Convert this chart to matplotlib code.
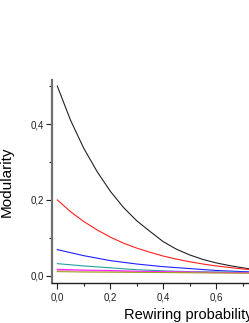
import matplotlib.pyplot as plt
from matplotlib.ticker import MultipleLocator, FuncFormatter

plt.rcParams['font.family'] = ['Liberation Sans', 'DejaVu Sans']

# rewiring probability
p_fine = [0.0, 0.05, 0.1, 0.15, 0.2, 0.25, 0.3, 0.35, 0.4, 0.45, 0.5,
          0.55, 0.6, 0.65, 0.7, 0.75, 0.8, 0.85, 0.9, 0.95, 1.0]
p = [0.0, 0.1, 0.2, 0.3, 0.4, 0.5, 0.6, 0.7, 0.8, 0.9, 1.0]

q_black = [0.5, 0.41, 0.336, 0.275, 0.223, 0.18, 0.145, 0.117, 0.09, 0.07, 0.055,
           0.043, 0.034, 0.027, 0.021, 0.016, 0.0125, 0.01, 0.008, 0.0065, 0.005]
q_red = [0.2, 0.169, 0.143, 0.121, 0.102, 0.086, 0.073, 0.062, 0.052, 0.044, 0.037,
         0.031, 0.026, 0.022, 0.018, 0.015, 0.013, 0.011, 0.009, 0.0075, 0.006]
q_blue = [0.069, 0.053, 0.04, 0.031, 0.024, 0.019, 0.014, 0.011, 0.009, 0.007, 0.005]
q_teal = [0.032, 0.026, 0.021, 0.016, 0.013, 0.011, 0.01, 0.009, 0.008, 0.007, 0.006]
q_magenta = [0.017, 0.015, 0.014, 0.012, 0.011, 0.01, 0.009, 0.008, 0.007, 0.007, 0.006]
q_pink = [0.014, 0.013, 0.012, 0.011, 0.01, 0.009, 0.008, 0.0075, 0.007, 0.0065, 0.006]
q_olive = [0.011, 0.01, 0.0095, 0.009, 0.0085, 0.008, 0.0075, 0.007, 0.0068, 0.0065, 0.006]

fig = plt.figure(figsize=(2.49, 3.23), dpi=100)
# the original is a crop: the axes run up to the right edge of the picture
ax = fig.add_axes([52 / 249, 40 / 323, 197 / 249, 203 / 323])

lw = 0.8
ax.plot(p_fine, q_black, color='#222222', lw=lw)
ax.plot(p_fine, q_red, color='#ff2020', lw=lw)
ax.plot(p, q_blue, color='#2020ff', lw=lw)
ax.plot(p, q_teal, color='#20a0a0', lw=lw)
ax.plot(p, q_pink, color='#ff90d0', lw=lw)
ax.plot(p, q_magenta, color='#ff20ff', lw=lw)
ax.plot(p, q_olive, color='#a0a020', lw=lw)

ax.set_xlim(-0.02, 0.724)
ax.set_ylim(-0.019, 0.516)

for side in ['top', 'right']:
    ax.spines[side].set_visible(False)
ax.spines['left'].set_color('#707070')
ax.spines['left'].set_linewidth(1.6)
ax.spines['bottom'].set_color('#202020')
ax.spines['bottom'].set_linewidth(1.0)

ax.xaxis.set_major_locator(MultipleLocator(0.2))
ax.xaxis.set_minor_locator(MultipleLocator(0.1))
ax.yaxis.set_major_locator(MultipleLocator(0.2))
ax.yaxis.set_minor_locator(MultipleLocator(0.1))
comma = FuncFormatter(lambda v, pos: f'{v:.1f}'.replace('.', ','))
ax.xaxis.set_major_formatter(comma)
ax.yaxis.set_major_formatter(comma)
ax.tick_params(which='major', length=4, width=0.8, labelsize=7, pad=2, colors='#202020')
ax.tick_params(which='minor', length=2.5, width=0.8, colors='#202020')
ax.tick_params(axis='x', which='major', pad=3)

ax.set_xlabel('Rewiring probability', fontsize=10.5)
ax.xaxis.set_label_coords(136 / 197, -25 / 203)
ax.set_ylabel('Modularity', fontsize=11, labelpad=12)

fig.savefig('out.png', dpi=100)
